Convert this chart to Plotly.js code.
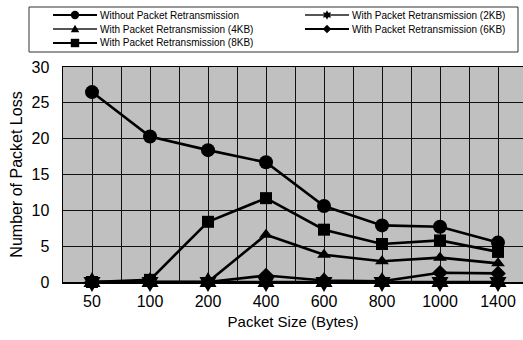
<!DOCTYPE html>
<html>
<head>
<meta charset="utf-8">
<script src="https://cdn.plot.ly/plotly-3.0.1.min.js"></script>
<style>html,body{margin:0;padding:0;background:#fff;}#chart{width:523px;height:340px;}</style>
</head>
<body>
<div id="chart"></div>
<script>
// ---- data ----
const categories = ['50', '100', '200', '400', '600', '800', '1000', '1400'];
const withoutRetx = [26.5, 20.3, 18.4, 16.7, 10.6, 7.9, 7.7, 5.5];
const retx2KB = [0, 0, 0, 0, 0, 0, 0, 0];
const retx4KB = [0, 0, 0, 6.6, 3.8, 2.9, 3.4, 2.6];
const retx6KB = [0, 0, 0, 0.9, 0.2, 0.1, 1.3, 1.2];
const retx8KB = [0, 0.3, 8.4, 11.7, 7.3, 5.3, 5.8, 4.2];
const seriesNames = [
  'Without Packet Retransmission',
  'With Packet Retransmission (2KB)',
  'With Packet Retransmission (4KB)',
  'With Packet Retransmission (6KB)',
  'With Packet Retransmission (8KB)'
];

// ---- styling ----
const W = 523, H = 340;
const M = {l: 63, r: 0, t: 67, b: 58};
const plotW = W - M.l - M.r, plotH = H - M.t - M.b;
const FONT = 'Arial, "Liberation Sans", sans-serif';
const xIdx = categories.map((c, i) => i);

const styles = [
  {data: withoutRetx, symbol: 'circle', size: 14, lineColor: '#000'},
  {data: retx2KB, symbol: 'hexagram', size: 15, lineColor: '#555'},
  {data: retx4KB, symbol: 'triangle-up', size: 12, lineColor: '#555'},
  {data: retx6KB, symbol: 'diamond', size: 12, lineColor: '#000'},
  {data: retx8KB, symbol: 'square', size: 12, lineColor: '#000'}
];
const drawOrder = [0, 2, 3, 1, 4];

const traces = drawOrder.map(k => ({
  type: 'scatter', mode: 'lines+markers', name: seriesNames[k],
  x: xIdx, y: styles[k].data, cliponaxis: false,
  line: {color: '#000', width: 2.6},
  marker: {symbol: styles[k].symbol, size: styles[k].size, color: '#000', line: {width: 0}},
  showlegend: false
}));

// ---- manual legend (decoration) ----
const px = x => (x - M.l) / plotW;
const py = y => (M.t + plotH - y) / plotH;
const shapes = [];
const annotations = [];
shapes.push({type: 'rect', xref: 'paper', yref: 'paper', x0: px(29), x1: px(518), y0: py(7), y1: py(52),
  line: {color: '#333', width: 1}, fillcolor: 'rgba(0,0,0,0)', layer: 'above'});
const slots = [
  {col: 0, row: 0}, {col: 1, row: 0}, {col: 0, row: 1}, {col: 1, row: 1}, {col: 0, row: 2}
];
const colX = [53, 305];
const rowY = [15, 29, 43];
function markerPath(sym, cx, cy, r) {
  let pts = [];
  if (sym === 'triangle-up') pts = [[cx, cy - r], [cx + r, cy + r * 0.8], [cx - r, cy + r * 0.8]];
  else if (sym === 'diamond') pts = [[cx, cy - r], [cx + r, cy], [cx, cy + r], [cx - r, cy]];
  else if (sym === 'square') pts = [[cx - r, cy - r], [cx + r, cy - r], [cx + r, cy + r], [cx - r, cy + r]];
  else if (sym === 'hexagram') {
    for (let i = 0; i < 12; i++) {
      const a = Math.PI / 2 + i * Math.PI / 6;
      const rr = i % 2 === 0 ? r * 1.15 : r * 0.6;
      pts.push([cx + rr * Math.cos(a), cy - rr * Math.sin(a)]);
    }
  }
  return 'M' + pts.map(p => px(p[0]) + ',' + py(p[1])).join('L') + 'Z';
}
styles.forEach((s, k) => {
  const x0 = colX[slots[k].col], y = rowY[slots[k].row];
  shapes.push({type: 'line', xref: 'paper', yref: 'paper', x0: px(x0), x1: px(x0 + 44), y0: py(y), y1: py(y),
    line: {color: s.lineColor, width: 2.2}, layer: 'above'});
  const cx = x0 + 22, r = 4.2;
  if (s.symbol === 'circle') {
    shapes.push({type: 'circle', xref: 'paper', yref: 'paper', x0: px(cx - r), x1: px(cx + r), y0: py(y - r), y1: py(y + r),
      fillcolor: '#000', line: {width: 0}, layer: 'above'});
  } else {
    shapes.push({type: 'path', xref: 'paper', yref: 'paper', path: markerPath(s.symbol, cx, y, r),
      fillcolor: '#000', line: {width: 0}, layer: 'above'});
  }
  annotations.push({xref: 'paper', yref: 'paper', x: px(x0 + 45), y: py(y), xanchor: 'left', yanchor: 'middle',
    text: seriesNames[k], showarrow: false, font: {family: FONT, size: 10, color: '#000'}});
});

const layout = {
  width: W, height: H,
  margin: M,
  paper_bgcolor: '#fff', plot_bgcolor: '#c0c0c0',
  showlegend: false,
  xaxis: {
    range: [-0.5, -0.5 + plotW / 58], tickvals: xIdx, ticktext: categories,
    showgrid: true, gridcolor: '#111', gridwidth: 1,
    minor: {tickvals: xIdx.map(i => i - 0.5), showgrid: true, gridcolor: '#111', gridwidth: 1},
    zeroline: false, showline: true, linecolor: '#000', linewidth: 1.5, mirror: true,
    ticks: '', ticklabelstandoff: 4,
    tickfont: {family: FONT, size: 16, color: '#000'},
    title: {text: 'Packet Size (Bytes)', font: {family: FONT, size: 15, color: '#000'}, standoff: 8}
  },
  yaxis: {
    range: [0, 30], dtick: 5, tick0: 0,
    showgrid: true, gridcolor: '#111', gridwidth: 1,
    zeroline: false, showline: true, linecolor: '#000', linewidth: 1.5, mirror: true,
    ticks: '', ticklabelstandoff: 9,
    tickfont: {family: FONT, size: 16, color: '#000'},
    title: {text: 'Number of Packet Loss', font: {family: FONT, size: 16, color: '#000'}, standoff: 5}
  },
  shapes: shapes,
  annotations: annotations
};

Plotly.newPlot('chart', traces, layout, {displayModeBar: false, staticPlot: true});
</script>
</body>
</html>
